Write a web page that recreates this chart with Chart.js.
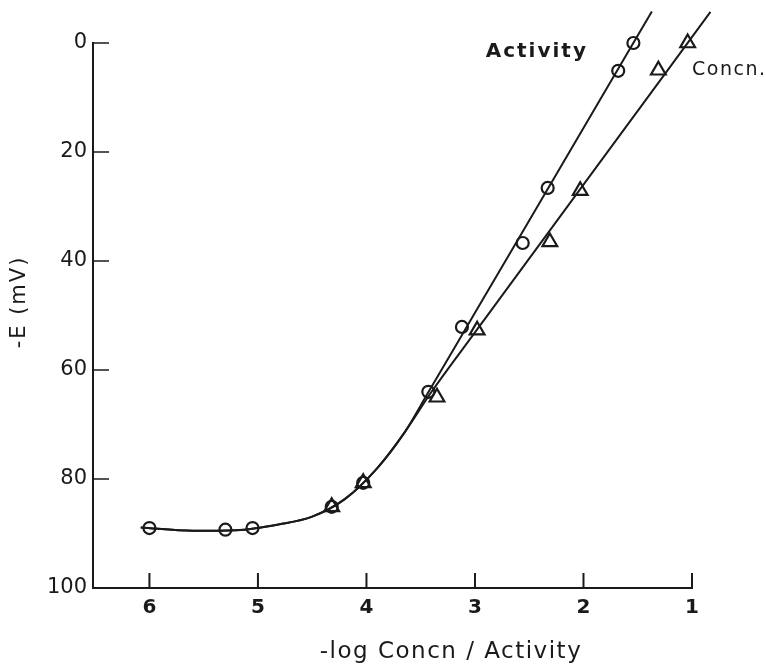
<!DOCTYPE html>
<html>
<head>
<meta charset="utf-8">
<script src="https://cdn.jsdelivr.net/npm/chart.js@4.4.1/dist/chart.umd.min.js"></script>
<style>
  html, body { margin: 0; padding: 0; background: #fff; }
  #wrap { width: 766px; height: 671px; }
</style>
</head>
<body>
<div id="wrap"><canvas id="potChart"></canvas></div>
<script>
const activityX = [6.0, 5.30, 5.05, 4.32, 4.03, 3.43, 3.12, 2.56, 2.33, 1.68, 1.54];
const activityY = [89.0, 89.3, 89.0, 85.1, 80.7, 64.0, 52.1, 36.7, 26.6, 5.1, 0.0];
const concnX = [4.32, 4.03, 3.35, 2.98, 2.31, 2.03, 1.31, 1.04];
const concnY = [85.1, 80.7, 65.0, 52.7, 36.5, 27.1, 5.0, 0.0];

// hand-drawn fit curves
const activityCurveX = [6.08, 5.6, 5.2, 4.8, 4.5, 4.2, 3.9, 3.65, 3.43, 3.0, 2.0, 1.37];
const activityCurveY = [88.9, 89.5, 89.4, 88.3, 86.9, 83.7, 78.0, 71.5, 64.1, 49.5, 15.6, -5.8];
const concnCurveX = [6.08, 5.6, 5.2, 4.8, 4.5, 4.2, 3.9, 3.65, 3.4, 3.0, 2.0, 0.83];
const concnCurveY = [88.9, 89.5, 89.4, 88.3, 86.9, 83.7, 78.0, 71.5, 64.0, 53.1, 26.0, -5.7];

const xTicks = [6, 5, 4, 3, 2, 1];
const yTicks = [0, 20, 40, 60, 80, 100];

const ink = '#1a1a1a';
const fontFam = '"DejaVu Sans", "Liberation Sans", sans-serif';

function pts(xs, ys) {
    return xs.map((x, i) => ({ x: x, y: ys[i] }));
}

// inward ticks + free text labels
const decorations = {
    id: 'decorations',
    afterDraw(chart) {
        const ctx = chart.ctx;
        const xs = chart.scales.x, ys = chart.scales.y;
        const area = chart.chartArea;
        ctx.save();
        ctx.strokeStyle = ink;
        ctx.lineWidth = 1.5;
        yTicks.forEach(v => {
            const py = ys.getPixelForValue(v);
            ctx.beginPath();
            ctx.moveTo(area.left, py);
            ctx.lineTo(area.left + 16, py);
            ctx.stroke();
        });
        ctx.lineWidth = 2;
        xTicks.forEach(v => {
            const px = xs.getPixelForValue(v);
            ctx.beginPath();
            ctx.moveTo(px, area.bottom);
            ctx.lineTo(px, area.bottom - 15);
            ctx.stroke();
        });

        ctx.fillStyle = ink;
        ctx.textBaseline = 'middle';
        ctx.letterSpacing = '2px';
        ctx.font = '600 20px ' + fontFam;
        ctx.textAlign = 'center';
        ctx.fillText('Activity', xs.getPixelForValue(2.43), ys.getPixelForValue(1.65));
        ctx.textAlign = 'left';
        ctx.letterSpacing = '1.5px';
        ctx.font = '19px ' + fontFam;
        ctx.fillText('Concn.', xs.getPixelForValue(1.0), ys.getPixelForValue(5.0));

        ctx.letterSpacing = '1.5px';
        ctx.font = '23px ' + fontFam;
        ctx.textAlign = 'center';
        ctx.fillText('-log Concn / Activity', area.left + 358, chart.height - 19);

        ctx.translate(20, 302);
        ctx.rotate(-Math.PI / 2);
        ctx.letterSpacing = '2px';
        ctx.font = '21px ' + fontFam;
        ctx.fillText('-E (mV)', 0, 0);
        ctx.restore();
    }
};

const ctx = document.getElementById('potChart').getContext('2d');
new Chart(ctx, {
    type: 'scatter',
    data: {
        datasets: [
            {
                label: 'Activity fit',
                data: pts(activityCurveX, activityCurveY),
                showLine: true,
                pointRadius: 0,
                borderColor: ink,
                borderWidth: 2,
                cubicInterpolationMode: 'monotone',
                clip: false
            },
            {
                label: 'Concn fit',
                data: pts(concnCurveX, concnCurveY),
                showLine: true,
                pointRadius: 0,
                borderColor: ink,
                borderWidth: 2,
                cubicInterpolationMode: 'monotone',
                clip: false
            },
            {
                label: 'Activity',
                data: pts(activityX, activityY),
                pointStyle: 'circle',
                pointRadius: 6,
                borderWidth: 2.2,
                borderColor: ink,
                backgroundColor: 'rgba(0,0,0,0)',
                clip: false
            },
            {
                label: 'Concn.',
                data: pts(concnX, concnY),
                pointStyle: 'triangle',
                pointRadius: 8.5,
                borderWidth: 2.2,
                borderColor: ink,
                backgroundColor: 'rgba(0,0,0,0)',
                clip: false
            }
        ]
    },
    options: {
        responsive: true,
        maintainAspectRatio: false,
        animation: false,
        layout: { padding: { top: 43, right: 74, left: 0, bottom: 0 } },
        plugins: {
            legend: { display: false },
            tooltip: { enabled: false }
        },
        scales: {
            x: {
                type: 'linear',
                reverse: true,
                min: 1,
                max: 6.52,
                afterBuildTicks: scale => { scale.ticks = xTicks.map(v => ({ value: v })); },
                afterFit: scale => { scale.height = 83; },
                grid: { display: false, drawTicks: false },
                border: { display: true, color: ink, width: 2 },
                ticks: {
                    color: ink,
                    padding: 8,
                    font: { family: fontFam, size: 20, weight: 'bold' }
                }
            },
            y: {
                type: 'linear',
                reverse: true,
                min: 0,
                max: 100,
                afterBuildTicks: scale => { scale.ticks = yTicks.map(v => ({ value: v })); },
                afterFit: scale => { scale.width = 93; },
                grid: { display: false, drawTicks: false },
                border: { display: true, color: ink, width: 2 },
                ticks: {
                    color: ink,
                    padding: 6,
                    font: { family: fontFam, size: 21 }
                }
            }
        }
    },
    plugins: [decorations]
});
</script>
</body>
</html>
